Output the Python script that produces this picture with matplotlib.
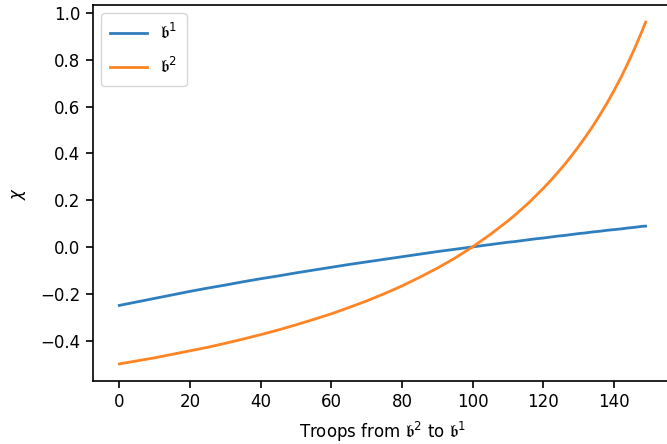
import matplotlib
matplotlib.use("Agg")
import matplotlib.pyplot as plt

# troops moved from side 2 to side 1
troops = [0, 5, 10, 15, 20, 25, 30, 35, 40, 45, 50, 55, 60, 65, 70, 75,
          80, 85, 90, 95, 100, 105, 110, 112, 114, 116, 118, 120, 122, 124,
          126, 128, 130, 132, 134, 136, 138, 140, 142, 144, 146, 148, 149]

chi_b1 = [-0.250, -0.235, -0.220, -0.205, -0.190, -0.176, -0.163, -0.149,
          -0.136, -0.124, -0.111, -0.099, -0.087, -0.075, -0.064, -0.053,
          -0.042, -0.031, -0.020, -0.010, 0.000, 0.010, 0.020, 0.023,
          0.027, 0.031, 0.035, 0.038, 0.042, 0.046, 0.049, 0.053, 0.057,
          0.060, 0.064, 0.067, 0.071, 0.074, 0.077, 0.081, 0.084, 0.088,
          0.089]

chi_b2 = [-0.500, -0.487, -0.474, -0.459, -0.444, -0.429, -0.412, -0.394,
          -0.375, -0.355, -0.333, -0.310, -0.286, -0.259, -0.231, -0.200,
          -0.167, -0.130, -0.091, -0.048, 0.000, 0.053, 0.111, 0.136,
          0.163, 0.190, 0.220, 0.250, 0.282, 0.316, 0.351, 0.389, 0.429,
          0.471, 0.515, 0.563, 0.613, 0.667, 0.724, 0.786, 0.852, 0.923,
          0.961]

fig = plt.figure(figsize=(6.67, 4.44), dpi=100)
# axes run a little past the right edge of the canvas
ax = fig.add_axes([0.1394, 0.1419, 0.868, 0.8468])

ax.plot(troops, chi_b1, color="#2f7fbf", lw=2, label=r"$\mathfrak{b}^1$")
ax.plot(troops, chi_b2, color="#ff8424", lw=2, label=r"$\mathfrak{b}^2$")

for s in ax.spines.values():
    s.set_linewidth(1.2)

ax.set_xticks(range(0, 141, 20))
ax.set_yticks([-0.4, -0.2, 0.0, 0.2, 0.4, 0.6, 0.8, 1.0])
ax.tick_params(labelsize=12, length=5, width=1.2, pad=4)
ax.set_xlabel(r"Troops from $\mathfrak{b}^2$ to $\mathfrak{b}^1$", fontsize=12,
              labelpad=6)
ax.set_ylabel(r"$\chi$", fontsize=12, labelpad=9)
ax.legend(loc="upper left", fontsize=12, labelspacing=0.85,
          borderpad=0.55, handlelength=2.2)

fig.savefig("out.png", dpi=100)
